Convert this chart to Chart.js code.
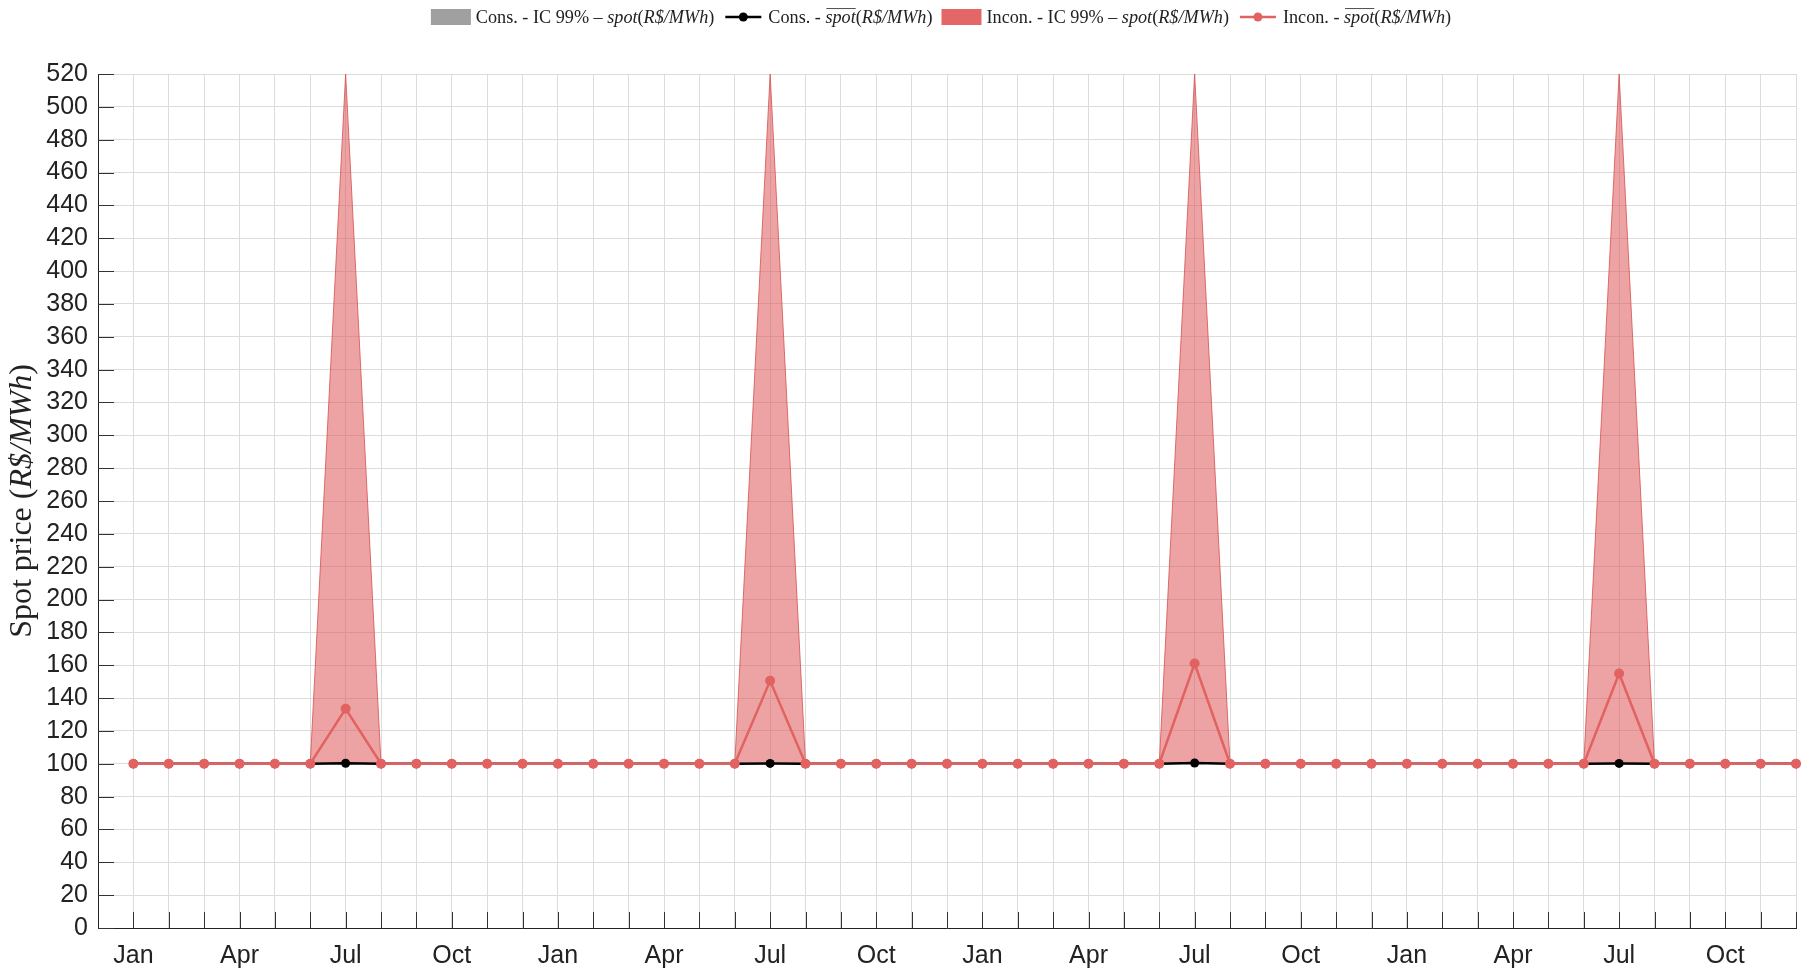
<!DOCTYPE html>
<html>
<head>
<meta charset="utf-8">
<script src="https://cdn.jsdelivr.net/npm/chart.js@4.4.0/dist/chart.umd.min.js"></script>
<style>
html, body { margin: 0; padding: 0; background: #fff; }
</style>
</head>
<body>
<canvas id="chart" width="1804" height="970"></canvas>
<script>
// month index, 0 = Jan of the first year
var months = [0,1,2,3,4,5,6,7,8,9,10,11,12,13,14,15,16,17,18,19,20,21,22,23,
              24,25,26,27,28,29,30,31,32,33,34,35,36,37,38,39,40,41,42,43,44,45,46,47];
var tickNames = ['Jan', 'Apr', 'Jul', 'Oct'];

// conservative scenario
var consMean  = [100,100,100,100,100,100,100.3,100,100,100,100,100,
                 100,100,100,100,100,100,100.2,100,100,100,100,100,
                 100,100,100,100,100,100,100.5,100,100,100,100,100,
                 100,100,100,100,100,100,100.2,100,100,100,100,100];
var consUpper = [100,100,100,100,100,100,100.5,100,100,100,100,100,
                 100,100,100,100,100,100,100.5,100,100,100,100,100,
                 100,100,100,100,100,100,100.8,100,100,100,100,100,
                 100,100,100,100,100,100,100.5,100,100,100,100,100];
var consLower = [100,100,100,100,100,100,100,100,100,100,100,100,
                 100,100,100,100,100,100,100,100,100,100,100,100,
                 100,100,100,100,100,100,100,100,100,100,100,100,
                 100,100,100,100,100,100,100,100,100,100,100,100];

// inconsistent scenario
var inconMean  = [100,100,100,100,100,100,133.5,100,100,100,100,100,
                  100,100,100,100,100,100,150.5,100,100,100,100,100,
                  100,100,100,100,100,100,161,100,100,100,100,100,
                  100,100,100,100,100,100,155,100,100,100,100,100];
var inconUpper = [100,100,100,100,100,100,520,100,100,100,100,100,
                  100,100,100,100,100,100,520,100,100,100,100,100,
                  100,100,100,100,100,100,520,100,100,100,100,100,
                  100,100,100,100,100,100,520,100,100,100,100,100];
var inconLower = [100,100,100,100,100,100,100,100,100,100,100,100,
                  100,100,100,100,100,100,100,100,100,100,100,100,
                  100,100,100,100,100,100,100,100,100,100,100,100,
                  100,100,100,100,100,100,100,100,100,100,100,100];

function pts(arr) {
    return months.map(function(m, i) { return {x: m, y: arr[i]}; });
}

var RED = 'rgb(226,98,98)';
var SERIF = '"Liberation Serif", "DejaVu Serif", serif';

function fontR(s) { return s + 'px ' + SERIF; }
function fontI(s) { return 'italic ' + s + 'px ' + SERIF; }

// draw text made of several pieces (roman / italic / overline)
function drawParts(ctx, parts, x, y, size) {
    parts.forEach(function(p) {
        ctx.font = p.it ? fontI(size) : fontR(size);
        ctx.fillText(p.t, x, y);
        var w = ctx.measureText(p.t).width;
        if (p.over) {
            ctx.save();
            ctx.lineWidth = 0.8;
            ctx.beginPath();
            ctx.moveTo(x + 1, y - size * 0.52);
            ctx.lineTo(x + w, y - size * 0.52);
            ctx.stroke();
            ctx.restore();
        }
        x += w;
    });
    return x;
}
function partsWidth(ctx, parts, size) {
    var w = 0;
    parts.forEach(function(p) {
        ctx.font = p.it ? fontI(size) : fontR(size);
        w += ctx.measureText(p.t).width;
    });
    return w;
}

function unitParts(prefix, over) {
    return [
        {t: prefix},
        {t: 'spot', it: true, over: over},
        {t: '('},
        {t: 'R$/MWh', it: true},
        {t: ')'}
    ];
}

var legendItems = [
    {kind: 'box',  color: 'rgb(160,160,160)', parts: unitParts('Cons. - IC 99% \u2013 ', false)},
    {kind: 'line', color: '#000',             parts: unitParts('Cons. - ', true)},
    {kind: 'box',  color: 'rgb(229,102,102)', parts: unitParts('Incon. - IC 99% \u2013 ', false)},
    {kind: 'line', color: RED,                parts: unitParts('Incon. - ', true)}
];

var extras = {
    id: 'extras',
    afterDraw: function(chart) {
        var ctx = chart.ctx;
        var xs = chart.scales.x, ys = chart.scales.y;
        var area = chart.chartArea;
        ctx.save();

        // inward ticks
        ctx.strokeStyle = '#333';
        ctx.lineWidth = 1;
        ctx.beginPath();
        months.forEach(function(m) {
            var px = Math.round(xs.getPixelForValue(m)) + 0.5;
            ctx.moveTo(px, area.bottom);
            ctx.lineTo(px, area.bottom - 16);
        });
        for (var v = 0; v <= 520; v += 20) {
            var py = Math.round(ys.getPixelForValue(v)) + 0.5;
            ctx.moveTo(area.left, py);
            ctx.lineTo(area.left + 16, py);
        }
        ctx.stroke();

        // y axis title
        ctx.fillStyle = '#222';
        ctx.strokeStyle = '#222';
        ctx.textBaseline = 'middle';
        ctx.textAlign = 'left';
        var tParts = [{t: 'Spot price ('}, {t: 'R$/MWh', it: true}, {t: ')'}];
        var tw = partsWidth(ctx, tParts, 32);
        ctx.save();
        ctx.translate(23, (area.top + area.bottom) / 2);
        ctx.rotate(-Math.PI / 2);
        drawParts(ctx, tParts, -tw / 2, 0, 32);
        ctx.restore();

        // legend
        var size = 18.2, sw = 40, gapA = 5, gapB = 9;
        var total = 0;
        legendItems.forEach(function(it, i) {
            it.w = partsWidth(ctx, it.parts, size);
            total += sw + gapA + it.w + (i < legendItems.length - 1 ? gapB : 0);
        });
        var x = 941 - total / 2, y = 17;
        legendItems.forEach(function(it) {
            if (it.kind === 'box') {
                ctx.fillStyle = it.color;
                ctx.fillRect(x, y - 8, sw, 16);
            } else {
                ctx.strokeStyle = it.color;
                ctx.fillStyle = it.color;
                ctx.lineWidth = 2.5;
                ctx.beginPath();
                ctx.moveTo(x + 2, y);
                ctx.lineTo(x + sw - 2, y);
                ctx.stroke();
                ctx.beginPath();
                ctx.arc(x + sw / 2, y, 4.5, 0, Math.PI * 2);
                ctx.fill();
            }
            x += sw + gapA;
            ctx.fillStyle = '#222';
            ctx.strokeStyle = '#222';
            x = drawParts(ctx, it.parts, x, y + 1, size) + gapB;
        });
        ctx.restore();
    }
};

var ctx = document.getElementById('chart').getContext('2d');
var chart = new Chart(ctx, {
    type: 'line',
    data: {
        datasets: [
            {
                label: 'Incon. mean',
                data: pts(inconMean),
                borderColor: RED,
                backgroundColor: RED,
                borderWidth: 2.5,
                pointRadius: 5,
                pointBorderWidth: 0,
                fill: false,
                clip: 8,
                order: 0
            },
            {
                label: 'Cons. mean',
                data: pts(consMean),
                borderColor: '#000',
                backgroundColor: '#000',
                borderWidth: 2.5,
                pointRadius: 4.5,
                pointBorderWidth: 0,
                fill: false,
                clip: 8,
                order: 1
            },
            {
                label: 'Incon. IC upper',
                data: pts(inconUpper),
                borderColor: 'rgba(214,80,80,0.8)',
                borderWidth: 1,
                pointRadius: 0,
                backgroundColor: 'rgba(222,88,88,0.55)',
                fill: '+1',
                order: 2
            },
            {
                label: 'Incon. IC lower',
                data: pts(inconLower),
                borderWidth: 0,
                pointRadius: 0,
                fill: false,
                order: 3
            },
            {
                label: 'Cons. IC upper',
                data: pts(consUpper),
                borderColor: 'rgba(150,150,150,0.8)',
                borderWidth: 1,
                pointRadius: 0,
                backgroundColor: 'rgba(160,160,160,0.6)',
                fill: '+1',
                order: 4
            },
            {
                label: 'Cons. IC lower',
                data: pts(consLower),
                borderWidth: 0,
                pointRadius: 0,
                fill: false,
                order: 5
            }
        ]
    },
    options: {
        responsive: false,
        animation: false,
        layout: { padding: { top: 74, right: 8, left: 0, bottom: 0 } },
        plugins: {
            legend: { display: false },
            tooltip: { enabled: false }
        },
        elements: { line: { tension: 0 } },
        scales: {
            x: {
                type: 'linear',
                min: -1,
                max: 47,
                afterFit: function(s) { s.height = 42; s.paddingRight = 0; s.paddingLeft = 0; },
                grid: { color: '#dcdcdc', lineWidth: 1, drawTicks: false },
                border: { color: '#222', width: 1 },
                ticks: {
                    stepSize: 1,
                    autoSkip: false,
                    maxRotation: 0,
                    padding: 13,
                    color: '#222',
                    font: { family: '"Liberation Sans", Arial, sans-serif', size: 25 },
                    callback: function(v) {
                        if (v < 0 || v % 3 !== 0) return '';
                        return tickNames[(v % 12) / 3];
                    }
                }
            },
            y: {
                min: 0,
                max: 520,
                afterFit: function(s) { s.width = 98; },
                grid: { color: '#dcdcdc', lineWidth: 1, drawTicks: false },
                border: { color: '#222', width: 1 },
                ticks: {
                    stepSize: 20,
                    autoSkip: false,
                    padding: 10,
                    color: '#222',
                    font: { family: '"Liberation Sans", Arial, sans-serif', size: 25 }
                }
            }
        }
    },
    plugins: [extras]
});
</script>
</body>
</html>
